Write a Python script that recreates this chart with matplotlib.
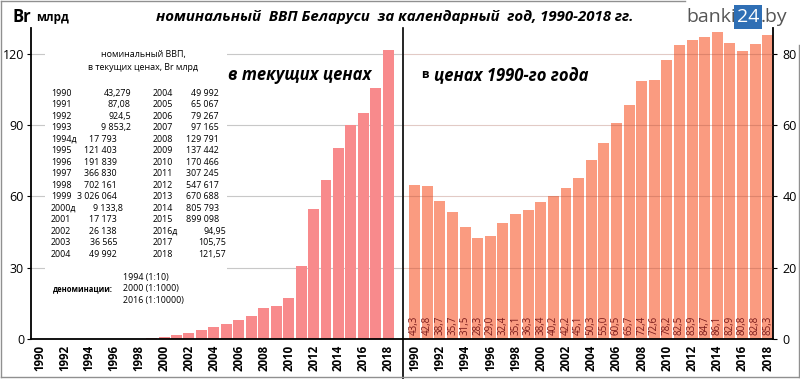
import numpy as np
import matplotlib
matplotlib.use("Agg")
import matplotlib.pyplot as plt
from matplotlib.patches import Rectangle
from matplotlib.lines import Line2D

plt.rcParams['font.family'] = ['Open Sans', 'DejaVu Sans']

# ---- data ----
years = list(range(1990, 2019))
# nominal GDP, current prices, Br bn (2016 denomination)
gdp_current = [0.0, 0.0, 0.0, 0.0, 0.002, 0.012, 0.019, 0.037, 0.070, 0.303,
               0.91, 1.72, 2.61, 3.66, 5.00, 6.51, 7.93, 9.72, 12.98, 13.74,
               17.05, 30.72, 54.76, 67.07, 80.58, 89.91, 94.95, 105.75, 121.57]
# GDP in 1990 prices
gdp_1990 = [43.3, 42.8, 38.7, 35.7, 31.5, 28.3, 29.0, 32.4, 35.1, 36.3,
            38.4, 40.2, 42.2, 45.1, 50.3, 55.0, 60.5, 65.7, 72.4, 72.6,
            78.2, 82.5, 83.9, 84.7, 86.1, 82.9, 80.8, 82.8, 85.3]

tab_years_1 = ['1990', '1991', '1992', '1993', '1994д', '1995', '1996', '1997',
               '1998', '1999', '2000д', '2001', '2002', '2003', '2004']
tab_vals_1 = ['43,279', '87,08', '924,5', '9 853,2', '17 793', '121 403', '191 839',
              '366 830', '702 161', '3 026 064', '9 133,8', '17 173', '26 138',
              '36 565', '49 992']
tab_years_2 = ['2004', '2005', '2006', '2007', '2008', '2009', '2010', '2011',
               '2012', '2013', '2014', '2015', '2016д', '2017', '2018']
tab_vals_2 = ['49 992', '65 067', '79 267', '97 165', '129 791', '137 442', '170 466',
              '307 245', '547 617', '670 688', '805 793', '899 098', '94,95',
              '105,75', '121,57']
denoms = ['1994 (1:10)', '2000 (1:1000)', '2016 (1:10000)']

W, H = 800, 379
fig = plt.figure(figsize=(W / 100, H / 100), dpi=100)


def fx(px):
    return px / W


def fy(py):
    return 1 - py / H


x = np.arange(len(years))
xlabels = [str(y) if y % 2 == 0 else '' for y in years]

# ---- left panel: current prices ----
axL = fig.add_axes([fx(31), fy(339), fx(402 - 31), (339 - 28) / H])
axL.bar(x, gdp_current, width=0.88, color='#F88A8C', zorder=2)
axL.set_xlim(-0.68, 29.1)
axL.set_ylim(0, 130.9)
axL.set_yticks([0, 30, 60, 90, 120])
axL.set_axisbelow(True)
axL.grid(axis='y', color='#c8c8c8', lw=0.8)
axL.spines[['top', 'right']].set_visible(False)
for s in ['left', 'bottom']:
    axL.spines[s].set_color('black')
    axL.spines[s].set_linewidth(1.3)
axL.set_xticks(x)
axL.set_xticklabels(xlabels, rotation=90, fontsize=8.3, fontweight='bold')
axL.tick_params(axis='x', length=0, pad=4)
axL.tick_params(axis='y', labelsize=9, length=3, pad=2)

# white box behind the table
axL.add_patch(Rectangle((fx(45), fy(315)), fx(182), 275 / H,
                        transform=fig.transFigure, facecolor='white',
                        edgecolor='none', zorder=1))

# ---- right panel: 1990 prices ----
axR = fig.add_axes([fx(403), fy(339), fx(773 - 403), (339 - 28) / H])
axR.bar(x, gdp_1990, width=0.87, color='#FA9B80', zorder=1)
axR.set_xlim(-0.93, 28.42)
axR.set_ylim(0, 87.2)
axR.set_yticks([0, 20, 40, 60, 80])
axR.grid(axis='y', color='#a05040', alpha=0.3, lw=0.8, zorder=3)
axR.set_axisbelow(False)
axR.yaxis.tick_right()
axR.spines[['top', 'left']].set_visible(False)
for s in ['right', 'bottom']:
    axR.spines[s].set_color('black')
    axR.spines[s].set_linewidth(1.3)
axR.set_xticks(x)
axR.set_xticklabels(xlabels, rotation=90, fontsize=8.3, fontweight='bold')
axR.tick_params(axis='x', length=0, pad=4)
axR.tick_params(axis='y', labelsize=9, length=3, pad=4)
for xi, v in zip(x, gdp_1990):
    axR.text(xi, 1.2, f'{v:.1f}'.replace('.', ','), rotation=90, ha='center',
             va='bottom', fontsize=7, color='#7A1A1A', zorder=4)

# ---- separator and frame ----
fig.add_artist(Line2D([fx(402.5), fx(402.5)], [fy(28), fy(379)], color='black', lw=1.2))
fig.add_artist(Line2D([fx(1), fx(1)], [fy(1), fy(377)], color='#909090', lw=1))
fig.add_artist(Line2D([fx(1), fx(799)], [fy(377), fy(377)], color='#909090', lw=1))
fig.add_artist(Line2D([fx(799), fx(799)], [fy(45), fy(377)], color='#909090', lw=1))
fig.add_artist(Line2D([fx(1), fx(685)], [fy(1), fy(1)], color='#909090', lw=1))

# ---- titles ----
fig.text(fx(13), fy(17), 'Br', fontsize=12, fontweight='bold', va='center')
fig.text(fx(36), fy(18), 'млрд', fontsize=8.5, fontweight='bold', va='center')
fig.text(fx(395), fy(17), 'номинальный  ВВП Беларуси  за календарный  год, 1990-2018 гг.',
         fontsize=10.8, fontweight='bold', fontstyle='italic', ha='center', va='center')
fig.text(fx(228), fy(75), 'в текущих ценах', fontsize=12, fontweight='bold',
         fontstyle='italic', va='center')
fig.text(fx(421), fy(75), 'в', fontsize=8.5, fontweight='bold', va='center')
fig.text(fx(434), fy(75), 'ценах 1990-го года', fontsize=12, fontweight='bold',
         fontstyle='italic', va='center')

# logo
fig.text(fx(686), fy(17), 'banki', fontsize=14, color='#555555', va='center')
fig.text(fx(737), fy(17), '24', fontsize=14, color='white', va='center',
         bbox=dict(boxstyle='square,pad=0.15', facecolor='#2f6fb5', edgecolor='none'))
fig.text(fx(761), fy(17), '.by', fontsize=14, color='#555555', va='center')

# ---- table ----
fs = 6.4
fig.text(fx(143), fy(55), 'номинальный ВВП,', fontsize=fs, ha='center', va='center')
fig.text(fx(143), fy(67), 'в текущих ценах, Br млрд', fontsize=fs, ha='center', va='center')
for i in range(len(tab_years_1)):
    yy = fy(93.3 + i * 11.5)
    fig.text(fx(51), yy, tab_years_1[i], fontsize=fs, va='center')
    r1 = 131 if i < 4 else (123 if ',' in tab_vals_1[i] else 117)
    fig.text(fx(r1), yy, tab_vals_1[i], fontsize=fs, va='center', ha='right')
    fig.text(fx(153), yy, tab_years_2[i], fontsize=fs, va='center')
    r2 = 226 if ',' in tab_vals_2[i] else 219
    fig.text(fx(r2), yy, tab_vals_2[i], fontsize=fs, va='center', ha='right')

fig.text(fx(53), fy(289), 'деноминации:', fontsize=5.5, fontweight='bold', va='center')
for i, d in enumerate(denoms):
    fig.text(fx(123), fy(277.5 + i * 11.5), d, fontsize=fs, va='center')

fig.savefig('out.png', dpi=100)
